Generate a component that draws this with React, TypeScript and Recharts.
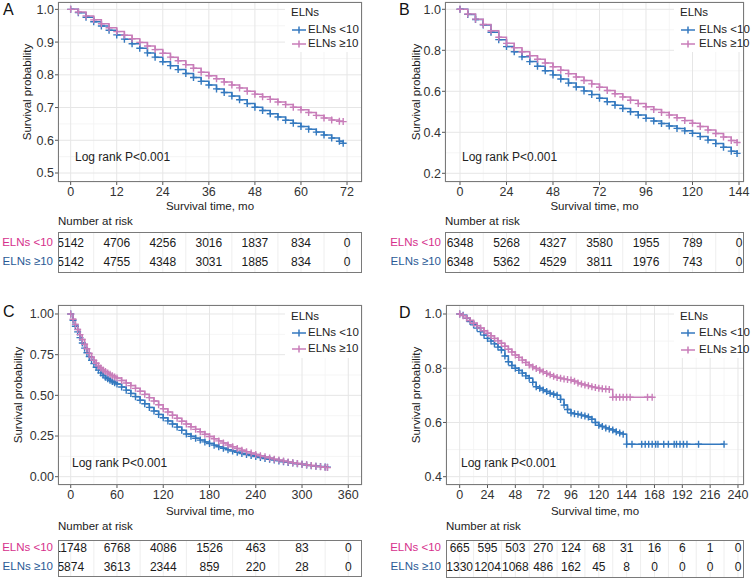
import React from 'react';
import { LineChart, Line, XAxis, YAxis, CartesianGrid, ScatterChart, Scatter, ReferenceLine } from 'recharts';

const BLUE = '#3479bf';
const PINK = '#c87db9';
const LAB_LOW = '#d6308c';
const LAB_HIGH = '#2a5a96';
const FONT = '"Liberation Sans", Arial, Helvetica, sans-serif';

// ---------- Panel A ----------
const timeA = [0, 2, 4, 6, 8, 10, 12, 14, 16, 18, 20, 22, 24, 26, 28, 30, 32, 34, 36, 38, 40, 42, 44, 46, 48, 50, 52, 54, 56, 58, 60, 62, 64, 66, 68, 70, 71];
const lowA = [1.0, 0.99, 0.976, 0.962, 0.949, 0.936, 0.922, 0.909, 0.895, 0.881, 0.867, 0.854, 0.84, 0.828, 0.816, 0.804, 0.792, 0.78, 0.769, 0.757, 0.746, 0.735, 0.724, 0.712, 0.701, 0.691, 0.681, 0.671, 0.661, 0.652, 0.642, 0.634, 0.625, 0.616, 0.607, 0.597, 0.591];
const highA = [1.0, 0.992, 0.98, 0.968, 0.956, 0.944, 0.932, 0.921, 0.91, 0.899, 0.888, 0.877, 0.866, 0.854, 0.843, 0.831, 0.82, 0.808, 0.797, 0.788, 0.778, 0.769, 0.76, 0.75, 0.741, 0.733, 0.725, 0.717, 0.709, 0.701, 0.693, 0.685, 0.676, 0.668, 0.662, 0.658, 0.657];
const riskTimeA = [0, 12, 24, 36, 48, 60, 72];
const riskLowA = [5142, 4706, 4256, 3016, 1837, 834, 0];
const riskHighA = [5142, 4755, 4348, 3031, 1885, 834, 0];

// ---------- Panel B ----------
const timeB = [0, 4, 8, 12, 16, 20, 24, 28, 32, 36, 40, 44, 48, 52, 56, 60, 64, 68, 72, 76, 80, 84, 88, 92, 96, 100, 104, 108, 112, 116, 120, 124, 128, 132, 136, 140, 143];
const lowB = [1.0, 0.975, 0.95, 0.924, 0.888, 0.852, 0.818, 0.793, 0.768, 0.745, 0.722, 0.7, 0.68, 0.66, 0.64, 0.621, 0.602, 0.584, 0.566, 0.549, 0.532, 0.516, 0.5, 0.484, 0.468, 0.455, 0.443, 0.431, 0.419, 0.407, 0.395, 0.379, 0.362, 0.345, 0.327, 0.308, 0.297];
const highB = [1.0, 0.977, 0.952, 0.926, 0.895, 0.864, 0.834, 0.813, 0.793, 0.774, 0.756, 0.738, 0.72, 0.703, 0.686, 0.67, 0.653, 0.636, 0.62, 0.604, 0.588, 0.572, 0.556, 0.54, 0.525, 0.511, 0.497, 0.484, 0.471, 0.457, 0.444, 0.428, 0.411, 0.394, 0.377, 0.36, 0.35];
const riskTimeB = [0, 24, 48, 72, 96, 120, 144];
const riskLowB = [6348, 5268, 4327, 3580, 1955, 789, 0];
const riskHighB = [6348, 5362, 4529, 3811, 1976, 743, 0];

// ---------- Panel C ----------
const timeC = [0, 3, 6, 9, 12, 15, 18, 21, 24, 27, 30, 33, 36, 39, 42, 45, 48, 51, 54, 57, 60, 66, 72, 78, 84, 90, 96, 102, 108, 114, 120, 126, 132, 138, 144, 150, 156, 162, 168, 174, 180, 186, 192, 198, 204, 210, 216, 222, 228, 234, 240, 246, 252, 258, 264, 270, 276, 282, 288, 294, 300, 306, 312, 318, 324, 330, 333];
const lowC = [1.0, 0.962, 0.925, 0.89, 0.855, 0.822, 0.79, 0.762, 0.738, 0.715, 0.695, 0.673, 0.655, 0.638, 0.623, 0.612, 0.602, 0.593, 0.585, 0.577, 0.57, 0.551, 0.532, 0.512, 0.492, 0.47, 0.448, 0.426, 0.404, 0.383, 0.362, 0.343, 0.324, 0.305, 0.285, 0.262, 0.248, 0.236, 0.225, 0.214, 0.204, 0.194, 0.184, 0.175, 0.166, 0.158, 0.15, 0.143, 0.136, 0.13, 0.124, 0.118, 0.112, 0.107, 0.102, 0.097, 0.092, 0.088, 0.084, 0.08, 0.076, 0.072, 0.068, 0.065, 0.062, 0.059, 0.058];
const highC = [1.0, 0.968, 0.936, 0.905, 0.873, 0.843, 0.814, 0.786, 0.758, 0.735, 0.715, 0.697, 0.681, 0.668, 0.656, 0.646, 0.637, 0.629, 0.621, 0.613, 0.606, 0.591, 0.576, 0.56, 0.543, 0.525, 0.506, 0.486, 0.465, 0.442, 0.418, 0.398, 0.378, 0.359, 0.341, 0.324, 0.307, 0.291, 0.276, 0.261, 0.247, 0.233, 0.22, 0.207, 0.195, 0.184, 0.173, 0.163, 0.154, 0.145, 0.137, 0.129, 0.122, 0.115, 0.108, 0.102, 0.096, 0.091, 0.086, 0.081, 0.077, 0.073, 0.069, 0.065, 0.061, 0.058, 0.056];
const riskTimeC = [0, 60, 120, 180, 240, 300, 360];
const riskLowC = [11748, 6768, 4086, 1526, 463, 83, 0];
const riskHighC = [5874, 3613, 2344, 859, 220, 28, 0];

// ---------- Panel D ----------
const timeLowD = [0, 3, 6, 9, 12, 15, 18, 21, 24, 27, 30, 33, 36, 39, 42, 45, 48, 51, 54, 57, 60, 63, 66, 69, 72, 75, 78, 81, 84, 87, 90, 93, 96, 99, 102, 105, 108, 111, 114, 117, 120, 123, 126, 129, 132, 135, 138, 141, 144, 148.6, 157, 160, 163, 166, 169, 171, 176, 180, 185, 187, 190, 193, 196, 206, 228];
const lowD = [1.0, 0.995, 0.984, 0.972, 0.96, 0.948, 0.935, 0.922, 0.91, 0.9, 0.89, 0.878, 0.867, 0.845, 0.824, 0.81, 0.8, 0.792, 0.782, 0.772, 0.763, 0.748, 0.732, 0.726, 0.72, 0.714, 0.708, 0.704, 0.7, 0.685, 0.664, 0.648, 0.635, 0.632, 0.63, 0.627, 0.624, 0.62, 0.612, 0.6, 0.59, 0.585, 0.58, 0.576, 0.572, 0.566, 0.561, 0.557, 0.52, 0.52, 0.52, 0.52, 0.52, 0.52, 0.52, 0.52, 0.52, 0.52, 0.52, 0.52, 0.52, 0.52, 0.52, 0.52, 0.52];
const timeHighD = [0, 3, 6, 9, 12, 15, 18, 21, 24, 27, 30, 33, 36, 39, 42, 45, 48, 51, 54, 57, 60, 63, 66, 69, 72, 75, 78, 81, 84, 87, 90, 93, 96, 99, 102, 105, 108, 111, 114, 117, 120, 123, 126, 129, 132, 135, 138, 141, 144, 147, 162, 166];
const highD = [1.0, 0.994, 0.985, 0.976, 0.966, 0.957, 0.948, 0.938, 0.929, 0.92, 0.91, 0.901, 0.892, 0.881, 0.87, 0.86, 0.849, 0.84, 0.83, 0.821, 0.812, 0.805, 0.799, 0.793, 0.787, 0.781, 0.776, 0.77, 0.766, 0.763, 0.76, 0.758, 0.757, 0.752, 0.746, 0.742, 0.738, 0.735, 0.732, 0.729, 0.726, 0.724, 0.723, 0.722, 0.693, 0.693, 0.693, 0.693, 0.693, 0.693, 0.693, 0.693];
const riskTimeD = [0, 24, 48, 72, 96, 120, 144, 168, 192, 216, 240];
const riskLowD = [665, 595, 503, 270, 124, 68, 31, 16, 6, 1, 0];
const riskHighD = [1330, 1204, 1068, 486, 162, 45, 8, 0, 0, 0, 0];

const GROUP_LOW = 'ELNs <10';
const GROUP_HIGH = 'ELNs \u226510';

type Pt = { t: number; s: number };
const toSeries = (ts: number[], ss: number[]): Pt[] => ts.map((t, i) => ({ t, s: ss[i] })).filter((p) => p.s !== undefined);

type Cfg = {
  letter: string; letterX: number; letterY: number;
  plot: { x: number; y: number; w: number; h: number };
  xDomain: [number, number]; yDomain: [number, number];
  xTicks: number[]; xMinor: number[]; yTicks: number[]; yMinor: number[]; yDigits: number;
  low: Pt[]; high: Pt[];
  legend: { boxX: number; boxBottom: number; titleX: number; titleY: number; iconX: number; textX: number; row1: number; row2: number };
  logrank: { x: number; y: number };
  yTitleX: number; xTitleY: number; riskTitleY: number;
  table: { y: number; h: number; r1: number; r2: number };
  rowLabelRight: number;
  riskTimes: number[]; riskLow: number[]; riskHigh: number[];
};

const T = ({ x, y, children, size = 11.5, color = '#222', anchor = 'start', rotate = false }: any) => {
  const tx = anchor === 'start' ? '0%' : anchor === 'middle' ? '-50%' : '-100%';
  return (
    <div
      style={{
        position: 'absolute', left: x, top: y, fontSize: size, lineHeight: 1, color, whiteSpace: 'nowrap',
        transform: `translate(${tx}, -50%)${rotate ? ' rotate(-90deg)' : ''}`,
        transformOrigin: rotate ? '50% 50%' : undefined,
      }}
    >
      {children}
    </div>
  );
};

const plusDot = (color: string) => (p: any) => {
  const { cx, cy, index } = p;
  if (cx == null || cy == null || isNaN(cx) || isNaN(cy)) return <g key={`n${index}`} />;
  return <path key={`d${index}`} d={`M${cx - 3.5},${cy}h7M${cx},${cy - 3.5}v7`} stroke={color} strokeWidth={1.4} fill="none" />;
};

const scaleOf = (sc: any, v: number) => {
  if (typeof sc === 'function') return sc(v);
  if (sc && typeof sc.map === 'function') return sc.map(v);
  return null;
};

const LegendIcon = ({ color }: { color: string }) => (
  <svg width={14} height={8} style={{ display: 'block' }}>
    <line x1={0} y1={4} x2={14} y2={4} stroke={color} strokeWidth={1.5} />
    <line x1={7} y1={0.5} x2={7} y2={7.5} stroke={color} strokeWidth={1.5} />
  </svg>
);

const Panel = ({ c }: { c: Cfg }) => {
  const { plot } = c;
  const chartW = plot.w + 70;
  const chartH = plot.h + 40;
  const spacing = c.table.r2 - c.table.r1;
  const rowDomain: [number, number] = [-(c.table.h - c.table.r2) / spacing, 1 + c.table.r1 / spacing];
  const riskData = [
    ...c.riskTimes.map((t, i) => ({ t, r: 1, n: c.riskLow[i] })),
    ...c.riskTimes.map((t, i) => ({ t, r: 0, n: c.riskHigh[i] })),
  ];
  const tableGrid = [...c.xTicks, ...c.xMinor];
  const renderNum = (p: any) => (
    <text key={`r${p.index}`} x={p.cx} y={p.cy} textAnchor="middle" dominantBaseline="central" fontSize={12} fill="#1a1a1a">
      {p.payload.n}
    </text>
  );
  const tickStyle = { fontSize: 12.5, fill: '#333' };
  return (
    <>
      <div style={{ position: 'absolute', left: plot.x - 60, top: plot.y - 10, width: chartW, height: chartH }}>
        <LineChart width={chartW} height={chartH} margin={{ top: 10, right: 10, left: 0, bottom: 0 }}>
          <CartesianGrid
            stroke="#f3f3f3"
            strokeWidth={0.8}
            horizontalCoordinatesGenerator={(p: any) => c.yMinor.map((v) => scaleOf(p?.yAxis?.scale, v)).filter((v) => v != null)}
            verticalCoordinatesGenerator={(p: any) => c.xMinor.map((v) => scaleOf(p?.xAxis?.scale, v)).filter((v) => v != null)}
          />
          <CartesianGrid stroke="#e6e6e6" strokeWidth={1} />
          <XAxis
            type="number" dataKey="t" domain={c.xDomain} ticks={c.xTicks} interval={0} allowDataOverflow
            height={30} axisLine={false} tickSize={3} tickMargin={2} tickLine={{ stroke: '#555' }} tick={tickStyle}
          />
          <YAxis
            type="number" domain={c.yDomain} ticks={c.yTicks} interval={0} allowDataOverflow width={60}
            axisLine={false} tickSize={3} tickMargin={1} tickLine={{ stroke: '#555' }} tick={tickStyle}
            tickFormatter={(v: number) => v.toFixed(c.yDigits)}
          />
          <Line data={c.low} dataKey="s" type="stepAfter" stroke={BLUE} strokeWidth={1.5} dot={plusDot(BLUE)} activeDot={false} isAnimationActive={false} />
          <Line data={c.high} dataKey="s" type="stepAfter" stroke={PINK} strokeWidth={1.5} dot={plusDot(PINK)} activeDot={false} isAnimationActive={false} />
        </LineChart>
      </div>
      <div style={{ position: 'absolute', left: plot.x, top: plot.y, width: plot.w, height: plot.h, border: '1px solid #7a7a7a', boxSizing: 'border-box', pointerEvents: 'none' }} />
      {/* legend */}
      <div style={{ position: 'absolute', left: c.legend.boxX, top: plot.y + 1, width: plot.x + plot.w - 1 - c.legend.boxX, height: c.legend.boxBottom - plot.y - 1, background: '#fff' }} />
      <T x={c.legend.titleX} y={c.legend.titleY} size={11.5}>ELNs</T>
      <div style={{ position: 'absolute', left: c.legend.iconX, top: c.legend.row1 - 4 }}><LegendIcon color={BLUE} /></div>
      <div style={{ position: 'absolute', left: c.legend.iconX, top: c.legend.row2 - 4 }}><LegendIcon color={PINK} /></div>
      <T x={c.legend.textX} y={c.legend.row1} size={11.5}>{GROUP_LOW}</T>
      <T x={c.legend.textX} y={c.legend.row2} size={11.5}>{GROUP_HIGH}</T>
      <T x={c.logrank.x} y={c.logrank.y} size={12}>Log rank P&lt;0.001</T>
      <T x={c.letterX} y={c.letterY} size={16} color="#111">{c.letter}</T>
      <T x={c.yTitleX} y={plot.y + plot.h / 2} size={11.5} anchor="middle" rotate>Survival probability</T>
      <T x={plot.x + plot.w / 2} y={c.xTitleY} size={11.5} anchor="middle">Survival time, mo</T>
      <T x={plot.x} y={c.riskTitleY} size={11.5}>Number at risk</T>
      {/* risk table */}
      <div style={{ position: 'absolute', left: plot.x, top: c.table.y, width: plot.w, height: c.table.h, overflow: 'hidden' }}>
        <ScatterChart width={plot.w} height={c.table.h} margin={{ top: 0, right: 0, bottom: 0, left: 0 }}>
          <XAxis type="number" dataKey="t" domain={c.xDomain} allowDataOverflow hide />
          <YAxis type="number" dataKey="r" domain={rowDomain} allowDataOverflow hide />
          {tableGrid.map((t) => (
            <ReferenceLine key={`g${t}`} x={t} stroke="#eeeeee" strokeWidth={1} />
          ))}
          <Scatter data={riskData} dataKey="r" shape={renderNum} isAnimationActive={false} />
        </ScatterChart>
      </div>
      <div style={{ position: 'absolute', left: plot.x, top: c.table.y, width: plot.w, height: c.table.h, border: '1px solid #7a7a7a', boxSizing: 'border-box', pointerEvents: 'none' }} />
      <T x={c.rowLabelRight} y={c.table.y + c.table.r1} size={11.5} color={LAB_LOW} anchor="end">{GROUP_LOW}</T>
      <T x={c.rowLabelRight} y={c.table.y + c.table.r2} size={11.5} color={LAB_HIGH} anchor="end">{GROUP_HIGH}</T>
    </>
  );
};

const panels: Cfg[] = [
  {
    letter: 'A', letterX: 3, letterY: 10,
    plot: { x: 58, y: 2, w: 304, h: 180 },
    xDomain: [-3.3, 75.9], yDomain: [0.4725, 1.0225],
    xTicks: [0, 12, 24, 36, 48, 60, 72], xMinor: [6, 18, 30, 42, 54, 66],
    yTicks: [0.5, 0.6, 0.7, 0.8, 0.9, 1.0], yMinor: [0.55, 0.65, 0.75, 0.85, 0.95], yDigits: 1,
    low: toSeries(timeA, lowA), high: toSeries(timeA, highA),
    legend: { boxX: 285, boxBottom: 52, titleX: 291, titleY: 12.5, iconX: 292, textX: 308, row1: 30, row2: 43.5 },
    logrank: { x: 75, y: 157 },
    yTitleX: 28, xTitleY: 207, riskTitleY: 222,
    table: { y: 232, h: 41, r1: 11, r2: 30 },
    rowLabelRight: 53,
    riskTimes: riskTimeA, riskLow: riskLowA, riskHigh: riskHighA,
  },
  {
    letter: 'B', letterX: 399, letterY: 10,
    plot: { x: 445, y: 2, w: 299, h: 180 },
    xDomain: [-7.74, 146.58], yDomain: [0.1576, 1.0356],
    xTicks: [0, 24, 48, 72, 96, 120, 144], xMinor: [12, 36, 60, 84, 108, 132],
    yTicks: [0.2, 0.4, 0.6, 0.8, 1.0], yMinor: [0.3, 0.5, 0.7, 0.9], yDigits: 1,
    low: toSeries(timeB, lowB), high: toSeries(timeB, highB),
    legend: { boxX: 674, boxBottom: 52, titleX: 680, titleY: 12.5, iconX: 681, textX: 699, row1: 30, row2: 43.5 },
    logrank: { x: 462, y: 157 },
    yTitleX: 417, xTitleY: 207, riskTitleY: 222,
    table: { y: 232, h: 41, r1: 11, r2: 30 },
    rowLabelRight: 441,
    riskTimes: riskTimeB, riskLow: riskLowB, riskHigh: riskHighB,
  },
  {
    letter: 'C', letterX: 3, letterY: 312,
    plot: { x: 58, y: 305, w: 304, h: 180 },
    xDomain: [-16.5, 377.8], yDomain: [-0.051, 1.0553],
    xTicks: [0, 60, 120, 180, 240, 300, 360], xMinor: [30, 90, 150, 210, 270, 330],
    yTicks: [0, 0.25, 0.5, 0.75, 1.0], yMinor: [0.125, 0.375, 0.625, 0.875], yDigits: 2,
    low: toSeries(timeC, lowC), high: toSeries(timeC, highC),
    legend: { boxX: 285, boxBottom: 358, titleX: 291, titleY: 316.7, iconX: 292, textX: 308, row1: 333.3, row2: 349.3 },
    logrank: { x: 72, y: 462.7 },
    yTitleX: 19, xTitleY: 512, riskTitleY: 527,
    table: { y: 540, h: 37, r1: 8.3, r2: 27.3 },
    rowLabelRight: 53,
    riskTimes: riskTimeC, riskLow: riskLowC, riskHigh: riskHighC,
  },
  {
    letter: 'D', letterX: 399, letterY: 313,
    plot: { x: 446, y: 305, w: 298, h: 180 },
    xDomain: [-11.8, 245.2], yDomain: [0.3694, 1.0332],
    xTicks: [0, 24, 48, 72, 96, 120, 144, 168, 192, 216, 240], xMinor: [12, 36, 60, 84, 108, 132, 156, 180, 204, 228],
    yTicks: [0.4, 0.6, 0.8, 1.0], yMinor: [0.5, 0.7, 0.9], yDigits: 1,
    low: toSeries(timeLowD, lowD), high: toSeries(timeHighD, highD),
    legend: { boxX: 674, boxBottom: 358, titleX: 680, titleY: 316.7, iconX: 681, textX: 699, row1: 333.3, row2: 350 },
    logrank: { x: 461, y: 462.7 },
    yTitleX: 417, xTitleY: 512, riskTitleY: 527,
    table: { y: 540, h: 38, r1: 8.3, r2: 27.3 },
    rowLabelRight: 441,
    riskTimes: riskTimeD, riskLow: riskLowD, riskHigh: riskHighD,
  },
];

export default function App() {
  return (
    <div style={{ position: 'absolute', left: 0, top: 0, width: 754, height: 580, background: '#fff', fontFamily: FONT, overflow: 'hidden' }}>
      {panels.map((c) => (
        <Panel key={c.letter} c={c} />
      ))}
    </div>
  );
}
